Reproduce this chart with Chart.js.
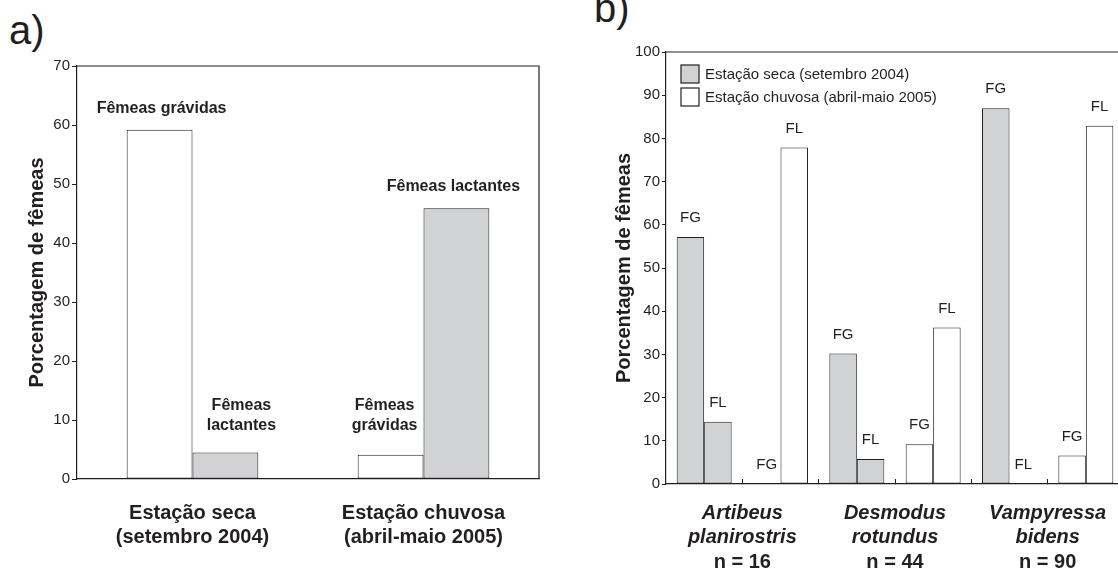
<!DOCTYPE html>
<html>
<head>
<meta charset="utf-8">
<script src="https://cdn.jsdelivr.net/npm/chart.js@4.4.1/dist/chart.umd.min.js"></script>
<style>
  html, body { margin: 0; padding: 0; background: #fff; overflow: hidden; }
  body { width: 1118px; height: 571px; position: relative; font-family: "Liberation Sans", Arial, sans-serif; color: #231f20; }
  .panel { position: absolute; top: 0; }
  .tag { position: absolute; font-size: 40px; line-height: 40px; white-space: nowrap; }
</style>
</head>
<body>
<div class="tag" style="left:9px; top:10px;">a)</div>
<div class="tag" style="left:594px; top:-12px;">b)</div>
<canvas id="chartA" class="panel" style="left:0px;" width="560" height="571"></canvas>
<canvas id="chartB" class="panel" style="left:560px;" width="600" height="571"></canvas>
<script>
// --- data, panel a ---
const seasonLabelsA = [['Estação seca', '(setembro 2004)'], ['Estação chuvosa', '(abril-maio 2005)']];
const gravidasA = [59.2, 4.1];
const lactantesA = [4.5, 45.9];
const notesGravidasA = [['Fêmeas grávidas'], ['Fêmeas', 'grávidas']];
const notesLactantesA = [['Fêmeas', 'lactantes'], ['Fêmeas lactantes']];

// --- data, panel b ---
const catsB = ['Artibeus seca', 'Artibeus chuvosa', 'Desmodus seca', 'Desmodus chuvosa', 'Vampyressa seca', 'Vampyressa chuvosa'];
const seasonOfCatB = ['seca', 'chuvosa', 'seca', 'chuvosa', 'seca', 'chuvosa'];
const fgB = [57.2, 0, 30.2, 9.2, 87.0, 6.6];
const flB = [14.4, 77.9, 5.8, 36.2, 0, 82.9];
const speciesNames = [['Artibeus', 'planirostris'], ['Desmodus', 'rotundus'], ['Vampyressa', 'bidens']];
const speciesN = ['n = 16', 'n = 44', 'n = 90'];
const legendB = ['Estação seca (setembro 2004)', 'Estação chuvosa (abril-maio 2005)'];

const INK = '#231f20';
const GRAY = '#d1d2d4';
const FONT = '"Liberation Sans", Arial, sans-serif';
Chart.defaults.font.family = FONT;
Chart.defaults.color = INK;

// box line on top and right of the plot
const framePlugin = {
  id: 'frame',
  afterDraw(chart) {
    const {ctx, chartArea: a} = chart;
    ctx.save();
    ctx.strokeStyle = INK;
    ctx.lineWidth = 1.2;
    ctx.beginPath();
    ctx.moveTo(a.left, a.top);
    ctx.lineTo(a.right, a.top);
    ctx.lineTo(a.right, a.bottom);
    ctx.stroke();
    ctx.restore();
  }
};

// text notes above the bars of panel a
const notesA = [notesGravidasA, notesLactantesA];
const noteShiftA = [[{dx: 2, dy: 21}, {dx: -6, dy: 29}], [{dx: 16, dy: 27}, {dx: -3, dy: 22}]];
const notesPluginA = {
  id: 'notesA',
  afterDatasetsDraw(chart) {
    const ctx = chart.ctx;
    ctx.save();
    ctx.fillStyle = INK;
    ctx.font = 'bold 16px ' + FONT;
    ctx.textAlign = 'center';
    ctx.textBaseline = 'middle';
    notesA.forEach((rows, di) => {
      chart.getDatasetMeta(di).data.forEach((bar, i) => {
        const lines = rows[i];
        const s = noteShiftA[di][i];
        lines.forEach((t, k) => {
          ctx.fillText(t, bar.x + s.dx, bar.y - s.dy - (lines.length - 1 - k) * 20);
        });
      });
    });
    ctx.restore();
  }
};

new Chart(document.getElementById('chartA'), {
  type: 'bar',
  data: {
    labels: seasonLabelsA,
    datasets: [
      { label: 'Fêmeas grávidas', data: gravidasA, backgroundColor: '#ffffff' },
      { label: 'Fêmeas lactantes', data: lactantesA, backgroundColor: GRAY }
    ]
  },
  options: {
    responsive: false,
    animation: false,
    devicePixelRatio: 1,
    layout: { padding: { left: 25, right: 21, top: 66, bottom: 0 } },
    datasets: {
      bar: { borderColor: INK, borderWidth: 1, borderSkipped: false, categoryPercentage: 0.57, barPercentage: 1 }
    },
    plugins: { legend: { display: false }, tooltip: { enabled: false } },
    scales: {
      x: {
        grid: { display: false, drawTicks: false },
        border: { display: true, color: INK, width: 1.2 },
        ticks: { font: { size: 20, weight: 'bold', lineHeight: 1.2 }, padding: 22, maxRotation: 0, autoSkip: false },
        afterFit(s) { s.height = 92; }
      },
      y: {
        min: 0, max: 70,
        grid: { drawOnChartArea: false, drawTicks: true, tickLength: 5, color: INK },
        border: { display: true, color: INK, width: 1.2 },
        ticks: { stepSize: 10, font: { size: 15 }, padding: 2 },
        title: { display: true, text: 'Porcentagem de fêmeas', font: { size: 20, weight: 'bold', lineHeight: 1.2 }, padding: 0 },
        afterFit(s) { s.width = 52; }
      }
    }
  },
  plugins: [framePlugin, notesPluginA]
});

// --- panel b ---
const codesB = ['FG', 'FL'];
const codesPluginB = {
  id: 'codesB',
  afterDatasetsDraw(chart) {
    const ctx = chart.ctx;
    ctx.save();
    ctx.fillStyle = INK;
    ctx.font = '15px ' + FONT;
    ctx.textAlign = 'center';
    ctx.textBaseline = 'middle';
    codesB.forEach((code, di) => {
      chart.getDatasetMeta(di).data.forEach(bar => {
        ctx.fillText(code, bar.x, bar.y - 19);
      });
    });
    ctx.restore();
  }
};

const legendPluginB = {
  id: 'legendB',
  afterDraw(chart) {
    const {ctx, chartArea: a} = chart;
    ctx.save();
    ctx.font = '15px ' + FONT;
    ctx.textBaseline = 'middle';
    legendB.forEach((t, i) => {
      const x = a.left + 15, y = a.top + 13 + i * 23;
      ctx.fillStyle = i === 0 ? GRAY : '#ffffff';
      ctx.fillRect(x, y, 18, 18);
      ctx.strokeStyle = INK;
      ctx.lineWidth = 1.2;
      ctx.strokeRect(x, y, 18, 18);
      ctx.fillStyle = INK;
      ctx.fillText(t, x + 24, y + 10);
    });
    ctx.restore();
  }
};

const colorsB = seasonOfCatB.map(s => s === 'seca' ? GRAY : '#ffffff');

new Chart(document.getElementById('chartB'), {
  type: 'bar',
  data: {
    labels: catsB,
    datasets: [
      { label: 'FG', data: fgB, backgroundColor: colorsB },
      { label: 'FL', data: flB, backgroundColor: colorsB }
    ]
  },
  options: {
    responsive: false,
    animation: false,
    devicePixelRatio: 1,
    layout: { padding: { left: 52, right: 36, top: 52, bottom: 0 } },
    datasets: {
      bar: { borderColor: INK, borderWidth: 1, borderSkipped: false, categoryPercentage: 0.72, barPercentage: 1 }
    },
    plugins: { legend: { display: false }, tooltip: { enabled: false } },
    scales: {
      x: {
        weight: 0,
        grid: { display: true, offset: true, drawOnChartArea: false, drawTicks: true, tickLength: -5, color: INK },
        border: { display: true, color: INK, width: 1.2 },
        ticks: { display: false },
        afterFit(s) { s.height = 14; }
      },
      x2: {
        type: 'category', position: 'bottom', weight: 1, offset: true,
        labels: speciesNames,
        grid: { display: false, drawTicks: false },
        border: { display: false },
        ticks: { font: { size: 20, weight: 'bold', style: 'italic', lineHeight: 1.2 }, padding: 3, maxRotation: 0, autoSkip: false },
        afterFit(s) { s.height = 51; }
      },
      x3: {
        type: 'category', position: 'bottom', weight: 2, offset: true,
        labels: speciesN,
        grid: { display: false, drawTicks: false },
        border: { display: false },
        ticks: { font: { size: 20, weight: 'bold', lineHeight: 1.2 }, padding: 1, maxRotation: 0, autoSkip: false },
        afterFit(s) { s.height = 22; }
      },
      y: {
        min: 0, max: 100,
        grid: { drawOnChartArea: false, drawTicks: true, tickLength: 4, color: INK },
        border: { display: true, color: INK, width: 1.2 },
        ticks: { stepSize: 10, font: { size: 15 }, padding: 2 },
        title: { display: true, text: 'Porcentagem de fêmeas', font: { size: 20, weight: 'bold', lineHeight: 1.2 }, padding: 0 },
        afterFit(s) { s.width = 54; }
      }
    }
  },
  plugins: [framePlugin, codesPluginB, legendPluginB]
});
</script>
</body>
</html>
